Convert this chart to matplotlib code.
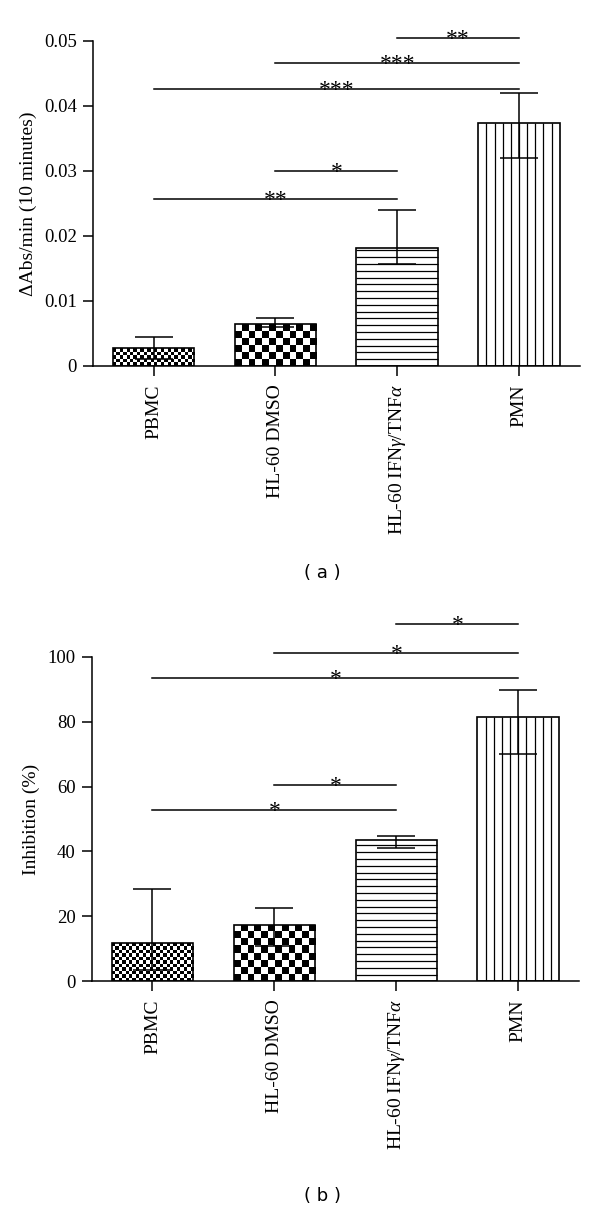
import numpy as np
import matplotlib
matplotlib.use('Agg')
import matplotlib.pyplot as plt

plt.rcParams['font.family'] = ['Liberation Serif', 'DejaVu Serif']
plt.rcParams['mathtext.fontset'] = 'custom'
plt.rcParams['mathtext.rm'] = 'Liberation Serif'
plt.rcParams['mathtext.it'] = 'Liberation Serif:italic'

groups = ['PBMC', 'HL-60 DMSO', r'HL-60 IFN$\it{\gamma}$/TNF$\it{\alpha}$', 'PMN']
patterns = ['fine', 'checker', 'hlines', 'vlines']

# panel a: rate (mean, lower end, upper end of error bar)
rate_mean = [0.00276, 0.00644, 0.0182, 0.0374]
rate_low = [0.00112, 0.0060, 0.0156, 0.0320]
rate_high = [0.0044, 0.0074, 0.0239, 0.0419]
rate_ticks = [0, 0.01, 0.02, 0.03, 0.04, 0.05]
rate_ticklabels = ['0', '0.01', '0.02', '0.03', '0.04', '0.05']
rate_sig = [(2, 3, 0.0504, '**'), (1, 3, 0.0466, '***'), (0, 3, 0.0425, '***'),
            (1, 2, 0.0299, '*'), (0, 2, 0.0256, '**')]

# panel b: inhibition %
inh_mean = [11.7, 17.3, 43.6, 81.3]
inh_low = [3.5, 10.9, 41.1, 69.9]
inh_high = [28.3, 22.7, 44.8, 89.8]
inh_ticks = [0, 20, 40, 60, 80, 100]
inh_sig = [(2, 3, 110.1, '*'), (1, 3, 101.2, '*'), (0, 3, 93.5, '*'),
           (1, 2, 60.6, '*'), (0, 2, 52.9, '*')]

fig = plt.figure(figsize=(6, 12.09), dpi=100)
ax1 = fig.add_axes([0.1545, 0.6973, 0.812, 0.2691])
ax2 = fig.add_axes([0.1525, 0.1883, 0.813, 0.2685])


def fill_pattern(ax, bar, kind):
    x0, y0 = bar.get_x(), bar.get_y()
    w, h = bar.get_width(), bar.get_height()
    p0 = ax.transData.transform((x0, y0))
    p1 = ax.transData.transform((x0 + w, y0 + h))
    wpx, hpx = p1[0] - p0[0], p1[1] - p0[1]
    if kind in ('fine', 'checker'):
        cell = 3.4 if kind == 'fine' else 6.8
        nx = max(1, int(round(wpx / cell)))
        ny = max(1, int(round(hpx / cell)))
        img = np.add.outer(np.arange(ny), np.arange(nx)) % 2
        im = ax.imshow(img, cmap='gray', extent=(x0, x0 + w, y0, y0 + h), origin='lower',
                       interpolation='nearest', aspect='auto', zorder=1.5, vmin=0, vmax=1)
        im.set_clip_path(bar)
    elif kind == 'hlines':
        step = h / hpx * 6.8
        ys = np.arange(y0 + step, y0 + h - step * 0.3, step)
        ax.hlines(ys, x0, x0 + w, color='black', lw=0.9, zorder=1.5)
    else:
        xs = x0 + w * np.arange(1, 10) / 10
        ax.vlines(xs, y0, y0 + h, color='black', lw=0.9, zorder=1.5)


def panel(ax, mean, low, high, ticks, ticklabels, ylabel, sig, star_size):
    x = np.arange(len(groups))
    ax.set_xlim(-0.5, 3.5)
    ax.set_ylim(ticks[0], ticks[-1])
    bars = ax.bar(x, mean, width=0.67, color='white', edgecolor='none', zorder=1)
    for b, kind in zip(bars, patterns):
        fill_pattern(ax, b, kind)
    ax.bar(x, mean, width=0.67, fill=False, edgecolor='black', linewidth=1.2, zorder=3)
    mean = np.array(mean)
    yerr = [mean - np.array(low), np.array(high) - mean]
    ax.errorbar(x, mean, yerr=yerr, fmt='none', ecolor='black', elinewidth=1.1,
                capsize=14, capthick=1.1, zorder=4)
    ax.set_xlim(-0.5, 3.5)
    ax.set_ylim(ticks[0], ticks[-1])
    for i, j, h, lab in sig:
        ax.plot([i, j], [h, h], color='black', lw=1.1, clip_on=False, zorder=5)
        ax.annotate(lab, ((i + j) / 2, h), xytext=(0, -5), textcoords='offset points',
                    ha='center', va='baseline', fontsize=star_size, annotation_clip=False)
    ax.spines['top'].set_visible(False)
    ax.spines['right'].set_visible(False)
    for s in ('left', 'bottom'):
        ax.spines[s].set_linewidth(1.1)
    ax.set_yticks(ticks)
    ax.set_yticklabels(ticklabels, fontsize=13.5)
    ax.set_xticks(x)
    ax.set_xticklabels(groups, rotation=90, fontsize=14)
    ax.tick_params(axis='both', direction='out', length=7, width=1.1)
    ax.tick_params(axis='y', pad=4.5)
    ax.tick_params(axis='x', pad=6)
    ax.set_ylabel(ylabel, fontsize=14, labelpad=5)


panel(ax1, rate_mean, rate_low, rate_high, rate_ticks, rate_ticklabels,
      '\u0394Abs/min (10 minutes)', rate_sig, 17)
panel(ax2, inh_mean, inh_low, inh_high, inh_ticks, [str(t) for t in inh_ticks],
      'Inhibition (%)', inh_sig, 17)

fig.text(0.538, 1 - 573 / 1209, '( a )', ha='center', va='center', fontsize=13,
         family='DejaVu Sans')
fig.text(0.538, 1 - 1196 / 1209, '( b )', ha='center', va='center', fontsize=13,
         family='DejaVu Sans')

fig.savefig('out.png', dpi=100)
